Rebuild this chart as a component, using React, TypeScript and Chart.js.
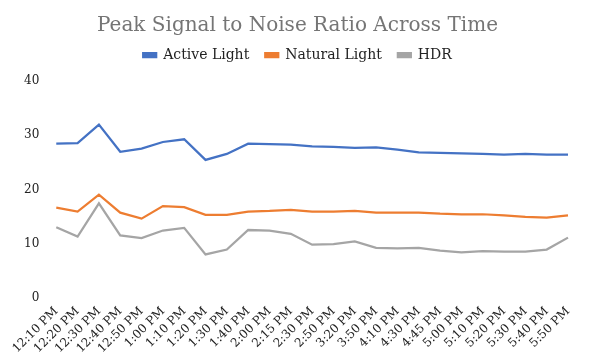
import React, { useEffect, useRef } from "react";
import { Chart, registerables } from "chart.js";

Chart.register(...registerables);

const categories = [
  "12:10 PM", "12:20 PM", "12:30 PM", "12:40 PM", "12:50 PM", "1:00 PM", "1:10 PM",
  "1:20 PM", "1:30 PM", "1:40 PM", "2:00 PM", "2:15 PM", "2:30 PM", "2:50 PM",
  "3:20 PM", "3:50 PM", "4:10 PM", "4:30 PM", "4:45 PM", "5:00 PM", "5:10 PM",
  "5:20 PM", "5:30 PM", "5:40 PM", "5:50 PM",
];

const activeLight = [
  28.1, 28.2, 31.6, 26.6, 27.2, 28.4, 28.9, 25.1, 26.2, 28.1, 28.0, 27.9, 27.6,
  27.5, 27.3, 27.4, 27.0, 26.5, 26.4, 26.3, 26.2, 26.1, 26.2, 26.1, 26.1,
];

const naturalLight = [
  16.3, 15.6, 18.7, 15.4, 14.3, 16.6, 16.4, 15.0, 15.0, 15.6, 15.7, 15.9, 15.6,
  15.6, 15.7, 15.4, 15.4, 15.4, 15.2, 15.1, 15.1, 14.9, 14.6, 14.5, 14.9,
];

const hdr = [
  12.7, 11.0, 17.1, 11.2, 10.7, 12.1, 12.6, 7.7, 8.6, 12.2, 12.1, 11.5, 9.5,
  9.6, 10.1, 8.9, 8.8, 8.9, 8.4, 8.1, 8.3, 8.2, 8.2, 8.6, 10.8,
];

const yTicks = [0, 10, 20, 30, 40];

const legendSpacer = {
  id: "legendSpacer",
  beforeInit(chart: any) {
    const legend = chart.legend;
    if (!legend) return;
    const origFit = legend.fit;
    legend.fit = function () {
      origFit.call(this);
      this.height += 7;
    };
  },
};

export default function App() {
  const ref = useRef<HTMLCanvasElement>(null);

  useEffect(() => {
    document.body.style.margin = "0";
    const canvas = ref.current;
    if (!canvas) return;
    const font = "'DejaVu Serif', serif";
    const chart = new Chart(canvas, {
      type: "line",
      data: {
        labels: categories,
        datasets: [
          { label: "Active Light", data: activeLight, borderColor: "#4472C4", backgroundColor: "#4472C4" },
          { label: "Natural Light", data: naturalLight, borderColor: "#ED7D31", backgroundColor: "#ED7D31" },
          { label: "HDR", data: hdr, borderColor: "#A5A5A5", backgroundColor: "#A5A5A5" },
        ].map((d) => ({ ...d, borderWidth: 2.25, pointRadius: 0, tension: 0, fill: false })),
      },
      plugins: [legendSpacer],
      options: {
        responsive: false,
        animation: false,
        layout: { padding: { left: 7, right: 7, top: 8, bottom: 8 } },
        plugins: {
          title: {
            display: true,
            text: "Peak Signal to Noise Ratio Across Time",
            color: "#757575",
            font: { family: font, size: 20, weight: "normal" },
            padding: { top: 6, bottom: -6 },
          },
          legend: {
            position: "top",
            labels: {
              color: "#222",
              font: { family: font, size: 14 },
              boxWidth: 13,
              boxHeight: 4,
              padding: 16,
            },
          },
          tooltip: { enabled: false },
        },
        scales: {
          x: {
            grid: { display: false },
            border: { display: false },
            afterFit: (axis: any) => {
              axis.paddingRight = 27;
            },
            ticks: {
              color: "#222",
              font: { family: font, size: 12 },
              maxRotation: 45,
              minRotation: 45,
              autoSkip: false,
              padding: 0,
            },
          },
          y: {
            min: 0,
            max: 40,
            afterBuildTicks: (axis: any) => {
              axis.ticks = yTicks.map((v) => ({ value: v }));
            },
            grid: { display: false, drawTicks: false },
            border: { display: false },
            ticks: {
              color: "#222",
              font: { family: font, size: 12 },
              padding: 17,
              labelOffset: 2,
            },
          },
        },
      },
    });
    return () => chart.destroy();
  }, []);

  return <canvas ref={ref} width={595} height={364} style={{ display: "block" }} />;
}
